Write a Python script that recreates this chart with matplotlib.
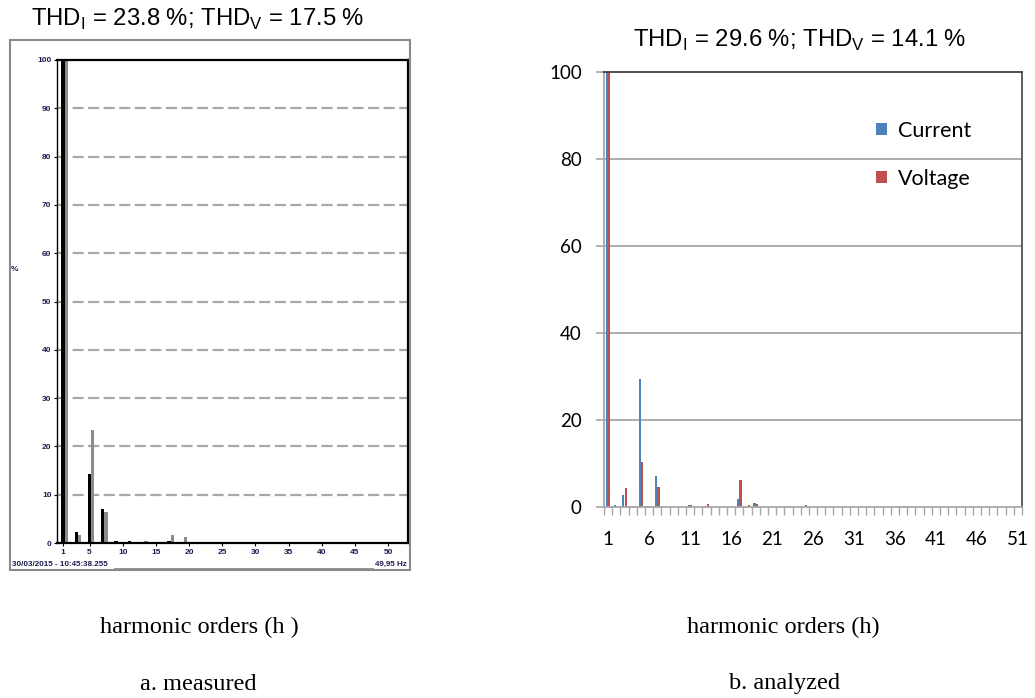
import numpy as np
import matplotlib
matplotlib.use('Agg')
import matplotlib.pyplot as plt
from matplotlib.patches import Rectangle
from matplotlib.lines import Line2D

plt.rcParams['font.family'] = 'Liberation Sans'
plt.rcParams['mathtext.fontset'] = 'custom'
plt.rcParams['mathtext.rm'] = 'Liberation Sans'

# -------------------------------------------------------------------------
# Data
# -------------------------------------------------------------------------
# (a) measured spectrum (% of fundamental)
meas_orders_I = [1, 3, 5, 7, 9, 11, 17]
meas_I        = [100, 2.3, 14.3, 7.1, 0.5, 0.5, 0.5]
meas_orders_V = [1, 2, 3, 5, 7, 13, 17, 19]
meas_V        = [100, 0.3, 1.7, 23.3, 6.4, 0.4, 1.7, 1.3]
meas_xticks   = [1, 5, 10, 15, 20, 25, 30, 35, 40, 45, 50]
meas_yticks   = [0, 10, 20, 30, 40, 50, 60, 70, 80, 90, 100]

# (b) analyzed spectrum
ana_orders  = [1, 2, 3, 5, 7, 11, 13, 17, 18, 19, 25, 37]
ana_current = [100, 0.4, 2.8, 29.5, 7.1, 0.4, 0.3, 1.9, 0.0, 0.9, 0.0, 0.0]
ana_voltage = [100, 0.0, 4.4, 10.4, 4.7, 0.4, 0.6, 6.3, 0.4, 0.6, 0.4, 0.3]
ana_xticks  = list(range(1, 52, 5))
ana_yticks  = [0, 20, 40, 60, 80, 100]

title_a = r'THD$_\mathregular{I}$ = 23.8 %; THD$_\mathregular{V}$ = 17.5 %'
title_b = r'THD$_\mathregular{I}$ = 29.6 %; THD$_\mathregular{V}$ = 14.1 %'

C_CUR = '#4f81bd'
C_VOL = '#c0504d'
NAVY = '#1c1c50'

W, H = 1035, 698
fig = plt.figure(figsize=(W / 100, H / 100), dpi=100)

def px_axes(x0, y0, x1, y1):
    return fig.add_axes([x0 / W, 1 - y1 / H, (x1 - x0) / W, (y1 - y0) / H])

# -------------------------------------------------------------------------
# (a) measured - analyser screenshot style
# -------------------------------------------------------------------------
fig.patches.append(Rectangle((10 / W, 1 - 570 / H), 400 / W, 530 / H,
                             transform=fig.transFigure, fill=False,
                             edgecolor='#8a8a8a', linewidth=1.5))
ax = px_axes(57, 60, 408, 543)
ax.bar(np.array(meas_orders_I), meas_I, width=0.5, color='black')
ax.bar(np.array(meas_orders_V) + 0.5, meas_V, width=0.5, color='#8c8c8c')
ax.set_xlim(0.1, 53)
ax.set_ylim(0, 100)
ax.set_yticks(meas_yticks)
ax.set_xticks(meas_xticks)
ax.tick_params(axis='both', labelsize=6, labelcolor=NAVY, length=2.5,
               width=0.8, pad=1.5)
for lab in ax.get_xticklabels() + ax.get_yticklabels():
    lab.set_fontweight('bold')
for v in meas_yticks[1:-1]:
    ax.axhline(v, color='#a8a8a8', linewidth=1.6, linestyle=(0, (5, 2)),
               zorder=0)
for s in ax.spines.values():
    s.set_linewidth(1.6)
ax.spines['left'].set_linewidth(1.0)
ax.set_ylabel('%', rotation=0, fontsize=6, fontweight='bold', color=NAVY)
ax.yaxis.set_label_coords(-0.12, 0.56)

fig.text(12 / W, 1 - 564 / H, '30/03/2015 - 10:45:38.255', fontsize=5.8,
         fontweight='bold', color=NAVY, va='center', ha='left')
fig.text(407 / W, 1 - 564 / H, '49,95 Hz', fontsize=5.8,
         fontweight='bold', color=NAVY, va='center', ha='right')
fig.lines.append(Line2D([115 / W, 372 / W], [1 - 569 / H, 1 - 569 / H],
                        transform=fig.transFigure, color='#8a8a8a',
                        linewidth=2))
fig.text(198 / W, 1 - 19 / H, title_a, fontsize=17.2, ha='center',
         va='center')

# -------------------------------------------------------------------------
# (b) analyzed - spreadsheet style
# -------------------------------------------------------------------------
bx = px_axes(604, 72, 1022, 507)
ho = np.array(ana_orders)
bx.bar(ho - 0.15, ana_current, width=0.28, color=C_CUR, label='Current')
bx.bar(ho + 0.15, ana_voltage, width=0.28, color=C_VOL, label='Voltage')
bx.set_xlim(0.5, 51.5)
bx.set_ylim(0, 100)
bx.set_yticks(ana_yticks)
bx.set_xticks(ana_xticks)
bx.set_xticks(np.arange(0.5, 52, 1), minor=True)
for v in ana_yticks[1:-1]:
    bx.axhline(v, color='#a6a6a6', linewidth=1.3, zorder=0)
bx.spines['left'].set_color('#a6a6a6')
bx.spines['bottom'].set_color('#a6a6a6')
bx.spines['top'].set_color('#404040')
bx.spines['right'].set_color('#505050')
for s in bx.spines.values():
    s.set_linewidth(1.3)
bx.tick_params(axis='y', length=6, width=1.2, color='#a6a6a6', pad=10,
               labelsize=13.5)
bx.tick_params(axis='x', which='major', length=0, pad=17, labelsize=13.5)
bx.tick_params(axis='x', which='minor', length=6, width=1.0, color='#a6a6a6')
for lab in bx.get_xticklabels() + bx.get_yticklabels():
    lab.set_fontfamily('Lato')
bx.legend(loc='center left', bbox_to_anchor=(0.625, 0.81), frameon=False,
          prop={'family': 'Lato', 'size': 15.5}, handlelength=0.5,
          handleheight=0.5, handletextpad=0.5, labelspacing=1.3,
          borderpad=0)
fig.text(800 / W, 1 - 40 / H, title_b, fontsize=17.2, ha='center',
         va='center')

# -------------------------------------------------------------------------
# Captions
# -------------------------------------------------------------------------
serif = 'Liberation Serif'
fig.text(199 / W, 1 - 627 / H, 'harmonic orders (h )', fontsize=17.5,
         family=serif, ha='center', va='center')
fig.text(783 / W, 1 - 627 / H, 'harmonic orders (h)', fontsize=17.5,
         family=serif, ha='center', va='center')
fig.text(198 / W, 1 - 684 / H, 'a. measured', fontsize=17.5,
         family=serif, ha='center', va='center')
fig.text(784 / W, 1 - 684 / H, 'b. analyzed', fontsize=17.5,
         family=serif, ha='center', va='center')

fig.savefig('out.png', dpi=100)
